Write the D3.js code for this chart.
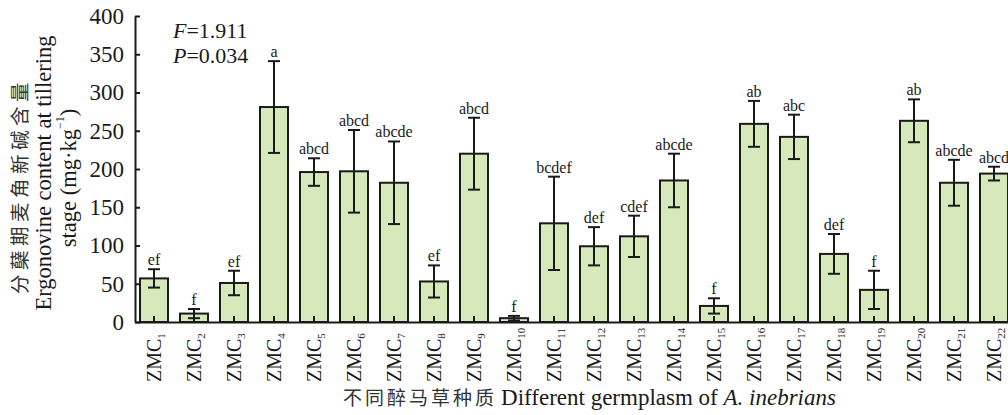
<!DOCTYPE html>
<html>
<head>
<meta charset="utf-8">
<script src="https://cdn.jsdelivr.net/npm/d3@7/dist/d3.min.js"></script>
<style>
  html, body { margin: 0; padding: 0; background: #fff; }
  svg { display: block; }
  text { font-family: "Liberation Serif", "Times New Roman", serif; fill: #1a1a1a; }
  .cjk { font-family: "Noto Sans CJK SC", sans-serif; fill: #333; }
</style>
</head>
<body>
<svg id="chart" width="1008" height="415"></svg>
<script>
// Germplasm lines (ZMC + accession number)
const categories = ["ZMC1","ZMC2","ZMC3","ZMC4","ZMC5","ZMC6","ZMC7","ZMC8","ZMC9","ZMC10","ZMC11",
                    "ZMC12","ZMC13","ZMC14","ZMC15","ZMC16","ZMC17","ZMC18","ZMC19","ZMC20","ZMC21","ZMC22"];
// Mean ergonovine content (mg·kg⁻¹)
const means  = [57, 11, 51, 281, 196, 197, 182, 53, 220, 5, 129, 99, 112, 185, 21, 259, 242, 89, 42, 263, 182, 194];
// Standard errors
const errors = [12, 6, 16, 60, 18, 54, 54, 21, 47, 3, 61, 25, 27, 35, 10, 30, 29, 26, 25, 28, 30, 9];
// Significance letters
const letters = ["ef","f","ef","a","abcd","abcd","abcde","ef","abcd","f","bcdef","def","cdef","abcde","f",
                 "ab","abc","def","f","ab","abcde","abcd"];
const yTicks = [0, 50, 100, 150, 200, 250, 300, 350, 400];

const svg = d3.select("#chart");
const ink = "#1a1a1a";
const barFill = "#d7e8bb";

const x = d3.scaleBand()
  .domain(categories)
  .range([135, 1013])
  .paddingInner(0.3)
  .paddingOuter(0.125);

const y = d3.scaleLinear().domain([0, 400]).range([322, 16]);

// Bars
svg.append("g").selectAll("rect")
  .data(categories)
  .join("rect")
  .attr("x", d => x(d))
  .attr("y", (d, i) => y(means[i]))
  .attr("width", x.bandwidth())
  .attr("height", (d, i) => y(0) - y(means[i]))
  .attr("fill", barFill)
  .attr("stroke", ink)
  .attr("stroke-width", 2);

// Error bars
const capHalf = 6;
const eb = svg.append("g").attr("stroke", ink).attr("stroke-width", 2);
categories.forEach((c, i) => {
  const cx = x(c) + x.bandwidth() / 2;
  const hi = y(means[i] + errors[i]);
  const lo = y(Math.max(0, means[i] - errors[i]));
  eb.append("line").attr("x1", cx).attr("x2", cx).attr("y1", hi).attr("y2", lo);
  eb.append("line").attr("x1", cx - capHalf).attr("x2", cx + capHalf).attr("y1", hi).attr("y2", hi);
  eb.append("line").attr("x1", cx - capHalf).attr("x2", cx + capHalf).attr("y1", lo).attr("y2", lo);
});

// Significance letters
svg.append("g").selectAll("text")
  .data(categories)
  .join("text")
  .attr("x", d => x(d) + x.bandwidth() / 2)
  .attr("y", (d, i) => y(means[i] + errors[i]) - 4)
  .attr("text-anchor", "middle")
  .style("font-size", "16px")
  .text((d, i) => letters[i]);

// Y axis (ticks pointing inward)
const yAxis = svg.append("g")
  .attr("transform", "translate(135,0)")
  .call(d3.axisLeft(y).tickValues(yTicks).tickSizeInner(-5).tickSizeOuter(0).tickPadding(11));
yAxis.select(".domain").attr("stroke", ink).attr("stroke-width", 2);
yAxis.selectAll(".tick line").attr("stroke", ink).attr("stroke-width", 2);
yAxis.selectAll(".tick text").style("font-size", "23px");

// X axis (ticks pointing inward, rotated labels with subscripts)
const xAxis = svg.append("g")
  .attr("transform", "translate(0,322)")
  .call(d3.axisBottom(x).tickSizeInner(-6).tickSizeOuter(0).tickFormat(""));
xAxis.select(".domain").attr("stroke", ink).attr("stroke-width", 2);
xAxis.selectAll(".tick line").attr("stroke", ink).attr("stroke-width", 2);
xAxis.selectAll(".tick text").remove();
xAxis.selectAll(".tick").each(function(d) {
  const t = d3.select(this).append("text")
    .attr("transform", "translate(7,60) rotate(-90)")
    .attr("text-anchor", "start")
    .style("font-size", "20px");
  t.append("tspan").text(d.slice(0, 3));
  t.append("tspan").style("font-size", "11px").attr("dy", 4).text(d.slice(3));
});

// Y axis title
const yTitle = svg.append("g");
yTitle.append("text")
  .attr("class", "cjk")
  .attr("transform", "translate(18,186) rotate(-90)")
  .attr("text-anchor", "middle")
  .attr("dominant-baseline", "central")
  .style("font-size", "19.5px")
  .style("letter-spacing", "4.5px")
  .text("分蘖期麦角新碱含量");
yTitle.append("text")
  .attr("transform", "translate(43,173) rotate(-90)")
  .attr("text-anchor", "middle")
  .attr("dominant-baseline", "central")
  .style("font-size", "22.5px")
  .text("Ergonovine content at tillering");
const l3 = yTitle.append("text")
  .attr("transform", "translate(68,178) rotate(-90)")
  .attr("text-anchor", "middle")
  .attr("dominant-baseline", "central")
  .style("font-size", "22.5px");
l3.append("tspan").text("stage (mg·kg");
l3.append("tspan").style("font-size", "12px").attr("dy", -8).text("−1");
l3.append("tspan").attr("dy", 8).text(")");

// X axis title
const xt = svg.append("text")
  .attr("x", 343)
  .attr("y", 405)
  .attr("text-anchor", "start")
  .style("font-size", "23px");
xt.append("tspan").attr("class", "cjk").style("font-size", "19px")
  .style("letter-spacing", "3px").text("不同醉马草种质");
xt.append("tspan").attr("dx", 4).text("Different germplasm of ");
xt.append("tspan").style("font-style", "italic").text("A. inebrians");

// ANOVA statistics
const stats = svg.append("g").style("font-size", "22px");
const f = stats.append("text").attr("x", 173).attr("y", 38);
f.append("tspan").style("font-style", "italic").text("F");
f.append("tspan").text("=1.911");
const p = stats.append("text").attr("x", 173).attr("y", 63);
p.append("tspan").style("font-style", "italic").text("P");
p.append("tspan").text("=0.034");
</script>
</body>
</html>
